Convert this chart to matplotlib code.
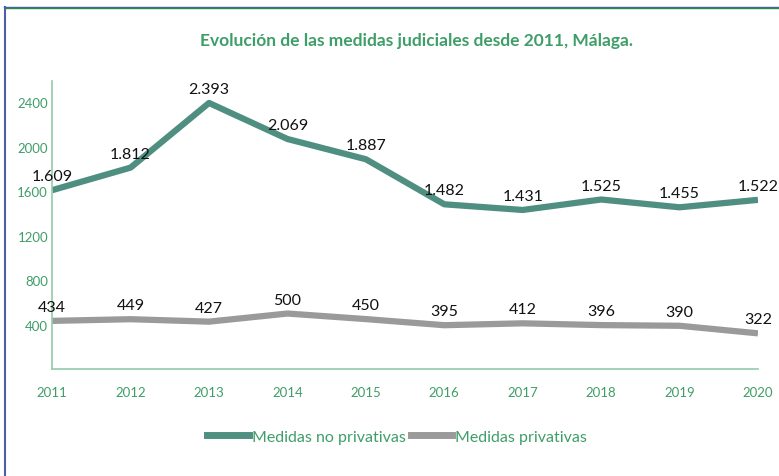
import matplotlib.pyplot as plt
from matplotlib.lines import Line2D

years = [2011, 2012, 2013, 2014, 2015, 2016, 2017, 2018, 2019, 2020]
no_privativas = [1609, 1812, 2393, 2069, 1887, 1482, 1431, 1525, 1455, 1522]
privativas = [434, 449, 427, 500, 450, 395, 412, 396, 390, 322]
yticks = [400, 800, 1200, 1600, 2000, 2400]

teal = '#4f8f81'
grey = '#9a9a9a'
green = '#3f9e68'


def fmt(v):
    # punto como separador de miles
    return f'{v:,}'.replace(',', '.')


plt.rcParams['font.family'] = ['Lato', 'DejaVu Sans']

fig = plt.figure(figsize=(7.79, 4.77), dpi=100)
ax = fig.add_axes([0.067, 0.224, 0.906, 0.604])

ax.plot(years, no_privativas, color=teal, lw=4.5, solid_capstyle='butt')
ax.plot(years, privativas, color=grey, lw=4.5, solid_capstyle='butt')

for x, y in zip(years, no_privativas):
    ax.annotate(fmt(y), (x, y), xytext=(0, 5), textcoords='offset points',
                ha='center', va='bottom', fontsize=11.5, color='#111111')
for x, y in zip(years, privativas):
    ax.annotate(fmt(y), (x, y), xytext=(0, 5), textcoords='offset points',
                ha='center', va='bottom', fontsize=11.5, color='#111111')

ax.set_xlim(2011, 2020)
ax.set_ylim(0, 2590)
ax.set_xticks(years)
ax.set_yticks(yticks)
ax.tick_params(length=0, labelsize=9.5, labelcolor=green)
ax.tick_params(axis='x', pad=12)
ax.tick_params(axis='y', pad=3)
for s in ['top', 'right']:
    ax.spines[s].set_visible(False)
for s in ['left', 'bottom']:
    ax.spines[s].set_color('#93cbaa')
    ax.spines[s].set_linewidth(1.2)

fig.text(0.535, 0.915, 'Evolución de las medidas judiciales desde 2011, Málaga.',
         ha='center', va='center', fontsize=12.5, fontweight='bold', color=green)

handles = [Line2D([], [], color=teal, lw=5), Line2D([], [], color=grey, lw=5)]
fig.legend(handles, ['Medidas no privativas', 'Medidas privativas'],
           loc='center', bbox_to_anchor=(0.51, 0.082), ncol=2, frameon=False,
           fontsize=11.5, labelcolor=green, handlelength=2.6, handletextpad=0.2,
           columnspacing=0.3)

# marco del recuadro (arriba e izquierda)
fig.add_artist(Line2D([0.005, 1], [0.984, 0.984], color='#4a5fa8', lw=1))
fig.add_artist(Line2D([0.007, 1], [0.981, 0.981], color='#2a8a4a', lw=1))
fig.add_artist(Line2D([0.006, 0.006], [0, 0.984], color='#4a5fa8', lw=1.5))

fig.savefig('out.png', dpi=100)
